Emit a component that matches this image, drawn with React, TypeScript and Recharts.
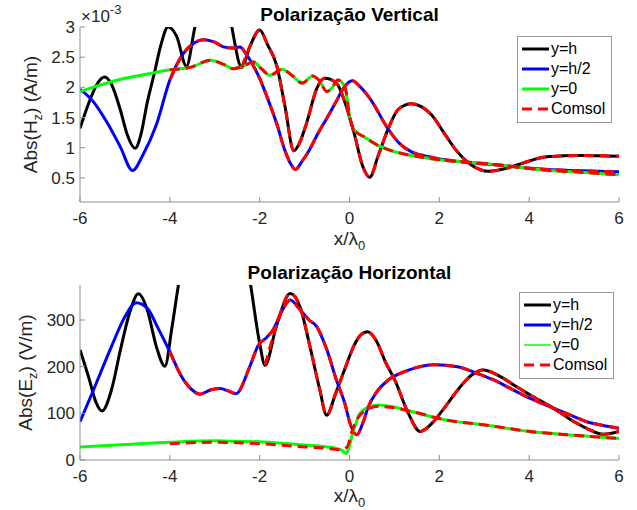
import React from 'react';
import { LineChart, Line, XAxis, YAxis, Legend } from 'recharts';

// ---- Polarização Vertical: Abs(Hz), in units of 1e-3 A/m ----
const vertX_h = [-6, -5.8, -5.6, -5.45, -5.3, -5.1, -4.95, -4.77, -4.65, -4.5, -4.34, -4.2, -4.04, -3.85, -3.63, -3.45, -3.2, -3.0, -2.8, -2.62, -2.4, -2.21, -2.0, -1.82, -1.62, -1.44, -1.24, -1.1, -0.95, -0.73, -0.55, -0.29, -0.1, 0.1, 0.3, 0.45, 0.64, 0.86, 1.09, 1.38, 1.6, 1.83, 2.1, 2.35, 2.72, 3.1, 3.5, 3.8, 4.39, 5.13, 6];
const vertY_h = [1.32, 1.75, 2.08, 2.17, 2.05, 1.62, 1.22, 0.99, 1.2, 1.76, 2.25, 2.7, 3.0, 2.85, 2.35, 2.97, 3.8, 4.1, 3.8, 3.0, 2.33, 2.69, 2.95, 2.7, 2.36, 1.7, 0.95, 1.1, 1.42, 1.98, 2.15, 2.07, 1.75, 1.25, 0.68, 0.51, 0.87, 1.31, 1.64, 1.73, 1.68, 1.54, 1.25, 0.98, 0.71, 0.61, 0.66, 0.73, 0.85, 0.87, 0.86];

const vertX_h2 = [-6, -5.7, -5.4, -5.1, -4.83, -4.6, -4.3, -4.0, -3.7, -3.45, -3.25, -3.0, -2.81, -2.6, -2.44, -2.3, -2.15, -2.0, -1.84, -1.6, -1.45, -1.3, -1.21, -1.05, -0.88, -0.7, -0.51, -0.3, -0.14, 0.06, 0.25, 0.46, 0.86, 1.1, 1.38, 1.7, 2.13, 2.6, 3.02, 3.5, 4.02, 5.0, 6];
const vertY_h2 = [1.97, 1.76, 1.42, 1.01, 0.62, 0.88, 1.38, 2.12, 2.56, 2.74, 2.79, 2.75, 2.67, 2.65, 2.67, 2.55, 2.37, 2.15, 1.85, 1.35, 0.98, 0.72, 0.64, 0.78, 0.98, 1.24, 1.48, 1.76, 1.98, 2.11, 2.0, 1.81, 1.31, 1.08, 0.93, 0.86, 0.8, 0.76, 0.73, 0.7, 0.66, 0.62, 0.6];

const vertX_0 = [-6, -5.5, -5.0, -4.5, -4.0, -3.5, -3.1, -2.8, -2.6, -2.4, -2.14, -1.95, -1.77, -1.5, -1.3, -1.05, -0.82, -0.68, -0.5, -0.38, -0.26, -0.1, 0.01, 0.1, 0.35, 0.6, 0.98, 1.38, 2.0, 2.83, 3.5, 4.3, 5.0, 6];
const vertY_0 = [1.93, 2.05, 2.15, 2.22, 2.29, 2.34, 2.45, 2.38, 2.31, 2.34, 2.42, 2.3, 2.2, 2.3, 2.21, 2.07, 2.19, 2.12, 1.93, 2.0, 2.12, 2.0, 1.48, 1.3, 1.17, 1.05, 0.94, 0.87, 0.8, 0.75, 0.7, 0.63, 0.6, 0.55];

// ---- Polarização Horizontal: Abs(Ez), V/m ----
const horX_h = [-6, -5.8, -5.65, -5.51, -5.3, -5.1, -4.9, -4.7, -4.5, -4.3, -4.11, -3.95, -3.8, -3.5, -3.0, -2.5, -2.22, -2.0, -1.88, -1.63, -1.32, -1.1, -0.88, -0.66, -0.51, -0.3, -0.1, 0.1, 0.25, 0.4, 0.6, 0.8, 1.01, 1.31, 1.57, 1.85, 2.13, 2.45, 2.72, 2.98, 3.3, 3.72, 4.1, 4.54, 4.9, 5.28, 5.65, 6];
const horY_h = [236, 175, 125, 105, 150, 236, 314, 356, 321, 243, 201, 286, 380, 520, 600, 520, 386, 250, 203, 286, 357, 328, 243, 150, 96, 145, 196, 245, 268, 275, 255, 210, 171, 100, 61, 80, 114, 155, 182, 193, 182, 157, 135, 111, 88, 68, 55, 61];

const horX_h2 = [-6, -5.7, -5.3, -5.0, -4.75, -4.5, -4.26, -4.0, -3.74, -3.5, -3.33, -3.1, -2.88, -2.7, -2.53, -2.22, -2.03, -1.85, -1.7, -1.5, -1.32, -1.1, -0.9, -0.73, -0.5, -0.29, -0.1, 0.01, 0.16, 0.3, 0.42, 0.6, 0.86, 1.3, 1.9, 2.4, 2.83, 3.2, 3.57, 4.0, 4.54, 5.0, 5.28, 5.6, 6];
const horY_h2 = [82, 150, 243, 307, 337, 325, 282, 232, 179, 150, 141, 150, 153, 148, 142, 200, 246, 262, 279, 320, 343, 322, 300, 286, 235, 171, 120, 79, 54, 80, 114, 145, 171, 192, 204, 200, 186, 172, 154, 133, 111, 93, 82, 75, 68];

const horX_0 = [-6, -5, -4, -3, -2.5, -2, -1.5, -1, -0.5, -0.3, -0.15, -0.08, 0.0, 0.05, 0.15, 0.23, 0.4, 0.64, 0.9, 1.38, 2.13, 3.02, 4.02, 5.0, 6];
const horY_0 = [28, 33, 38, 41, 40, 39, 36, 32, 28, 25, 20, 14, 30, 50, 80, 100, 112, 118, 115, 104, 86, 75, 61, 53, 46];

const horCX_0 = [-4, -3, -2, -1, -0.5, -0.2, -0.05, 0.05, 0.2, 0.4, 0.64, 0.9, 1.38, 2.13, 3.02, 4.02, 5, 6];
const horCY_0 = [35, 38, 35, 28, 25, 22, 28, 60, 92, 108, 115, 113, 104, 86, 75, 61, 53, 46];

const legendNames = ['y=h', 'y=h/2', 'y=0', 'Comsol'];
const xTicks = [-6, -4, -2, 0, 2, 4, 6];
const vertTicks = [0.5, 1, 1.5, 2, 2.5, 3];
const horTicks = [0, 100, 200, 300];

const TEXT = '#262626';
const AXIS = '#8f8f8f';
const TL = 5;

const pts = (xs: number[], ys: number[]) => xs.map((x, i) => ({ x, v: ys[i] }));
const from = (d: { x: number; v: number }[], x0: number) => d.filter((p) => p.x >= x0);

const vertH = pts(vertX_h, vertY_h);
const vertH2 = pts(vertX_h2, vertY_h2);
const vert0 = pts(vertX_0, vertY_0);
const horH = pts(horX_h, horY_h);
const horH2 = pts(horX_h2, horY_h2);
const hor0 = pts(horX_0, horY_0);
const horC0 = pts(horCX_0, horCY_0);

const BottomTick = (p: any) => (
  <g>
    <line x1={p.x} y1={p.y} x2={p.x} y2={p.y - TL} stroke={AXIS} />
    <text x={p.x} y={p.y + 22} textAnchor="middle" fontSize={17} fill={TEXT}>{p.payload.value}</text>
  </g>
);
const LeftTick = (p: any) => (
  <g>
    <line x1={p.x} y1={p.y} x2={p.x + TL} y2={p.y} stroke={AXIS} />
    <text x={p.x - 5} y={p.y + 6} textAnchor="end" fontSize={17} fill={TEXT}>{p.payload.value}</text>
  </g>
);
const TopTick = (p: any) => <line x1={p.x} y1={p.y} x2={p.x} y2={p.y + TL} stroke={AXIS} />;
const RightTick = (p: any) => <line x1={p.x} y1={p.y} x2={p.x - TL} y2={p.y} stroke={AXIS} />;

// x label below the axis, plus the panel title (and exponent) above the plot box
const xLabel = (dy: number, plotTop: number, title: string, exponent: boolean) => (props: any) => {
  const { x, y, width } = props.viewBox;
  return (
    <g>
      <text x={x + width / 2} y={y + dy} textAnchor="middle" fontSize={19} fill={TEXT}>
        x/λ<tspan dy={5} fontSize={13}>0</tspan>
      </text>
      <text x={x + width / 2} y={plotTop - 6} textAnchor="middle" fontSize={19} fontWeight="bold" fill="#000">{title}</text>
      {exponent && (
        <text x={x + 1} y={plotTop - 5} fontSize={17} fill={TEXT}>
          ×10<tspan dy={-8} fontSize={13}>-3</tspan>
        </text>
      )}
    </g>
  );
};

const yLabel = (sym: string, unit: string, dx: number) => (props: any) => {
  const { x, y, height } = props.viewBox;
  const cx = x + dx;
  const cy = y + height / 2;
  return (
    <text transform={`rotate(-90 ${cx} ${cy})`} x={cx} y={cy} textAnchor="middle" fontSize={19} fill={TEXT}>
      Abs({sym}<tspan dy={5} fontSize={13}>z</tspan><tspan dy={-5}>) ({unit})</tspan>
    </text>
  );
};

const legendContent = (thinZero: boolean) => (props: any) => {
  const all = props.payload || [];
  const items = legendNames.map((n) => all.find((it: any) => it.value === n)).filter(Boolean);
  return (
    <div style={{ background: '#fff', border: '1px solid #9a9a9a', padding: '2px 6px 3px 4px' }}>
      {items.map((it: any) => {
        const dashed = it.value === 'Comsol';
        const w = thinZero && it.value === 'y=0' ? 1.5 : 3;
        return (
          <div key={it.value} style={{ display: 'flex', alignItems: 'center', height: 20 }}>
            <svg width={27} height={20}>
              <line x1={0} y1={10} x2={27} y2={10} stroke={it.color} strokeWidth={w} strokeDasharray={dashed ? '10 6' : undefined} />
            </svg>
            <span style={{ fontSize: 16, marginLeft: 2, color: '#000', lineHeight: '20px' }}>{it.value}</span>
          </div>
        );
      })}
    </div>
  );
};

const lineProps = { type: 'monotone' as const, dataKey: 'v', dot: false, activeDot: false, isAnimationActive: false, strokeWidth: 3 };

function Panel(props: {
  top: number; bottom: number; domain: [number, number]; yTicks: number[];
  sym: string; unit: string; labelDx: number; xLabelDy: number; title: string; exponent: boolean;
  legendTop: number; legendLeft: number; thinZero: boolean;
  h: any[]; h2: any[]; z: any[]; ch: any[]; ch2: any[]; cz: any[];
}) {
  return (
    <LineChart width={637} height={255} margin={{ top: props.top, right: 18, bottom: props.bottom, left: 20 }}>
      <XAxis dataKey="x" type="number" domain={[-6, 6]} ticks={xTicks} interval={0} allowDataOverflow
        height={30} tickSize={0} tickMargin={0} tickLine={false} axisLine={{ stroke: AXIS }} tick={BottomTick}
        label={xLabel(props.xLabelDy, props.top, props.title, props.exponent)} />
      <XAxis xAxisId="top" orientation="top" dataKey="x" type="number" domain={[-6, 6]} ticks={xTicks} interval={0} allowDataOverflow
        height={0} tickSize={0} tickMargin={0} tickLine={false} axisLine={{ stroke: AXIS }} tick={TopTick} />
      <YAxis type="number" domain={props.domain} ticks={props.yTicks} interval={0} allowDataOverflow
        width={60} tickSize={0} tickMargin={0} tickLine={false} axisLine={{ stroke: AXIS }} tick={LeftTick}
        label={yLabel(props.sym, props.unit, props.labelDx)} />
      <YAxis yAxisId="r" orientation="right" type="number" domain={props.domain} ticks={props.yTicks} interval={0} allowDataOverflow
        width={0} tickSize={0} tickMargin={0} tickLine={false} axisLine={{ stroke: AXIS }} tick={RightTick} />
      <Legend layout="vertical" verticalAlign="middle" align="center"
        wrapperStyle={{ top: props.legendTop, left: props.legendLeft, width: 'auto' }}
        content={legendContent(props.thinZero)} />
      <Line {...lineProps} data={props.h} stroke="#000000" name="y=h" />
      <Line {...lineProps} data={props.h2} stroke="#0000ff" name="y=h/2" />
      <Line {...lineProps} data={props.z} stroke="#00ff00" name="y=0" />
      <Line {...lineProps} data={props.ch} stroke="#ff0000" strokeDasharray="10 6" name="Comsol" />
      <Line {...lineProps} data={props.ch2} stroke="#ff0000" strokeDasharray="10 6" name="Comsol h/2" legendType="none" />
      <Line {...lineProps} data={props.cz} stroke="#ff0000" strokeDasharray="10 6" name="Comsol 0" legendType="none" />
    </LineChart>
  );
}

export default function App() {
  return (
    <div style={{ position: 'absolute', left: 0, top: 0, width: 637, height: 510, background: '#fff', fontFamily: '"Liberation Sans", Arial, sans-serif' }}>
      <Panel top={27} bottom={23} domain={[0.1, 3]} yTicks={vertTicks} sym="H" unit="A/m" labelDx={17} xLabelDy={43}
        title="Polarização Vertical" exponent legendTop={36} legendLeft={517} thinZero={false}
        h={vertH} h2={vertH2} z={vert0} ch={from(vertH, -2.4)} ch2={from(vertH2, -4)} cz={from(vert0, -4)} />
      <Panel top={30} bottom={20} domain={[0, 375]} yTicks={horTicks} sym="E" unit="V/m" labelDx={12} xLabelDy={42}
        title="Polarização Horizontal" exponent={false} legendTop={37} legendLeft={519} thinZero
        h={horH} h2={horH2} z={hor0} ch={from(horH, -1.88)} ch2={from(horH2, -4)} cz={horC0} />
    </div>
  );
}
